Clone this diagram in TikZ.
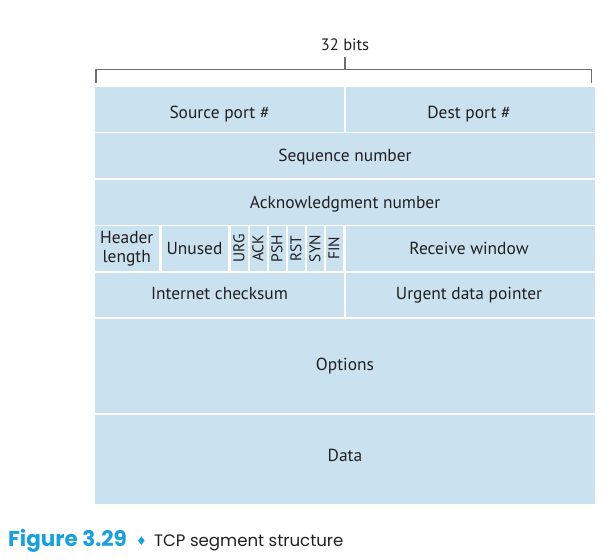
\documentclass[tikz,border=0pt]{standalone}
\usepackage{fontspec}
\setmainfont{PT Sans}
\newfontfamily\capfont{Poppins}
\newfontfamily\symfont{DejaVu Sans}
\definecolor{cellblue}{HTML}{CAE2EF}
\definecolor{txt}{HTML}{231F20}
\definecolor{brk}{HTML}{6D6E71}
\definecolor{figblue}{HTML}{1AA0DC}
\begin{document}
\begin{tikzpicture}[x=1pt,y=-1pt,
  cell/.style={fill=cellblue, draw=none, inner sep=0pt},
  lbl/.style={anchor=base, inner sep=0pt, text=txt, font=\fontsize{17.4}{18.7}\selectfont, align=center},
  flag/.style={cell, minimum width=17pt, minimum height=45pt},
  flagtxt/.style={rotate=90, text=txt, inner sep=0pt, font=\fontsize{15.5}{17}\selectfont},
  bracket/.style={draw=brk, line width=1.1pt}]
\useasboundingbox (0,0) rectangle (615,559);
% row 1
\node[cell, minimum width=249.5pt, minimum height=44pt] (src) at (219.25,109.5) {};
\node[cell, minimum width=249.5pt, minimum height=44pt] (dst) at (470.25,109.5) {};
\node[lbl] (srct) at (219.5,118.3) {Source port \#};
\node[lbl] (dstt) at (469,118.3) {Dest port \#};
% row 2
\node[cell, minimum width=500.5pt, minimum height=45pt] (seq) at (344.75,155.5) {};
\node[lbl] (seqt) at (345,161) {Sequence number};
% row 3
\node[cell, minimum width=500.5pt, minimum height=44.5pt] (ack) at (344.75,202.25) {};
\node[lbl] (ackt) at (345,208.3) {Acknowledgment number};
% row 4
\node[cell, minimum width=64.5pt, minimum height=45pt] (hlen) at (126.75,248.5) {};
\node[cell, minimum width=66.5pt, minimum height=45pt] (unused) at (194.75,248.5) {};
\node[lbl, anchor=center] (hlent) at (126.75,249) {Header\\length};
\node[lbl] (unusedt) at (194.5,254) {Unused};
\node[flag] (urg) at (239,248.5) {};
\node[flag] (ackf) at (258,248.5) {};
\node[flag] (psh) at (277,248.5) {};
\node[flag] (rst) at (296,248.5) {};
\node[flag] (syn) at (315,248.5) {};
\node[flag] (fin) at (334,248.5) {};
\node[flagtxt] (urgt) at (urg) {URG};
\node[flagtxt] (ackft) at (ackf) {ACK};
\node[flagtxt] (psht) at (psh) {PSH};
\node[flagtxt] (rstt) at (rst) {RST};
\node[flagtxt] (synt) at (syn) {SYN};
\node[flagtxt] (fint) at (fin) {FIN};
\node[cell, minimum width=249.5pt, minimum height=45pt] (rwnd) at (470.25,248.5) {};
\node[lbl] (rwndt) at (469,254) {Receive window};
% row 5
\node[cell, minimum width=249.5pt, minimum height=44.2pt] (csum) at (219.25,294.6) {};
\node[cell, minimum width=249.5pt, minimum height=44.2pt] (urgp) at (470.25,294.6) {};
\node[lbl] (csumt) at (219.5,299.3) {Internet checksum};
\node[lbl] (urgpt) at (469,299.3) {Urgent data pointer};
% options, data
\node[cell, minimum width=500.5pt, minimum height=94pt] (opt) at (344.75,366) {};
\node[cell, minimum width=500.5pt, minimum height=88.5pt] (data) at (344.75,459.25) {};
\node[lbl] (optt) at (345,370) {Options};
\node[lbl] (datat) at (345,461) {Data};
% bracket
\coordinate (bl) at (96,83.5);
\coordinate (br) at (591.7,83.5);
\coordinate (bm) at (345,69.3);
\coordinate (bt) at (345,57.5);
\draw[bracket] (bl) |- (bm) -| (br);
\draw[bracket] (bm) -- (bt);
\node[lbl, font=\fontsize{16.5}{18}\selectfont] (bits) at (345,50.7) {32 bits};
% caption
\node[anchor=base west, inner sep=0pt, text=figblue, font=\capfont\bfseries\fontsize{21.5}{24}\selectfont] (fig) at (8,546.7) {Figure 3.29};
\node[anchor=base west, inner sep=0pt, text=figblue, font=\symfont\fontsize{12}{14}\selectfont] (dia) at (136,545.5) {♦};
\node[anchor=base west, inner sep=0pt, text=txt, font=\capfont\fontsize{16.6}{20}\selectfont] (capt) at (154,546.7) {TCP segment structure};
\end{tikzpicture}
\end{document}
